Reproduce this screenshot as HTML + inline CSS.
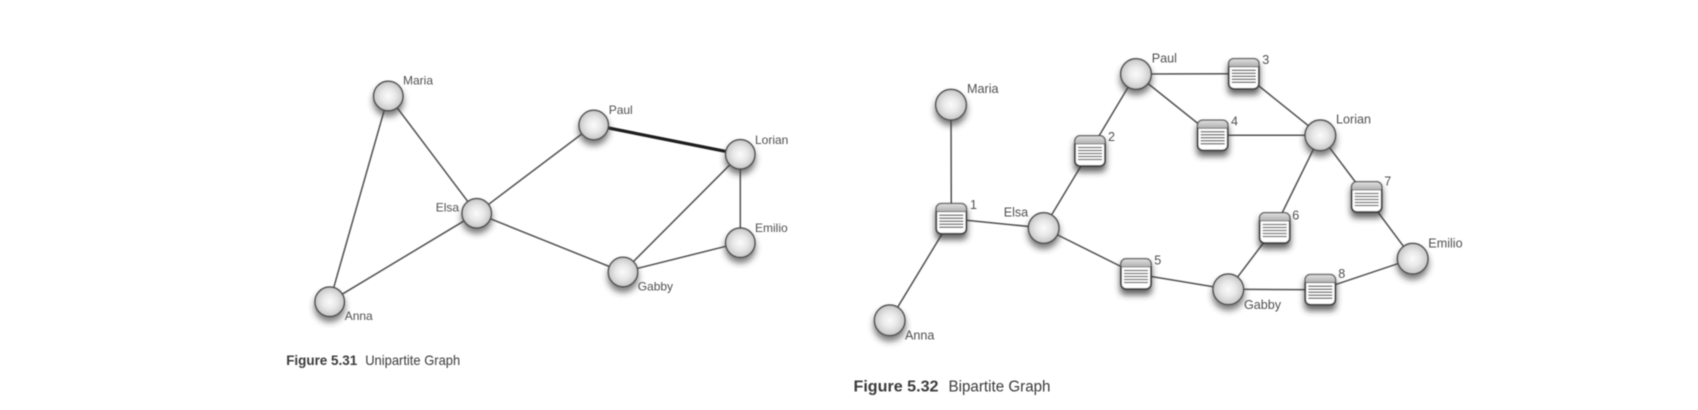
<!DOCTYPE html>
<html>
<head>
<meta charset="utf-8">
<style>
html,body{margin:0;padding:0;background:#fff;width:1698px;height:410px;overflow:hidden}
svg{display:block}
text{font-family:"Liberation Sans",sans-serif;fill:#505050}
.a text{font-size:12px}
.b text{font-size:12.6px}
.cap{fill:#3a3a3a}
line{stroke:#505050;stroke-width:1.5}
</style>
</head>
<body>
<svg width="1698" height="410" viewBox="0 0 1698 410" xmlns="http://www.w3.org/2000/svg">
<defs>
<radialGradient id="g" cx="50%" cy="50%" r="50%">
<stop offset="0" stop-color="#fbfbfb"/><stop offset=".5" stop-color="#e8e8e8"/><stop offset="1" stop-color="#c6c6c6"/>
</radialGradient>
<linearGradient id="h" x1="0" y1="0" x2="0" y2="1">
<stop offset="0" stop-color="#e0e0e0"/><stop offset="1" stop-color="#aeaeae"/>
</linearGradient>
<filter id="s" x="-80%" y="-80%" width="260%" height="260%"><feGaussianBlur stdDeviation="3.200"/></filter>
<filter id="soft" x="0" y="0" width="100%" height="100%"><feGaussianBlur stdDeviation="0.45"/></filter>
<g id="n1">
<circle cx="0" cy="5" r="15.500" fill="#444" opacity=".7" filter="url(#s)"/>
<circle r="14.700" fill="url(#g)" stroke="#505050" stroke-width="1.500"/>
</g>
<g id="n2">
<circle cx="0" cy="5" r="16.200" fill="#444" opacity=".7" filter="url(#s)"/>
<circle r="15.300" fill="url(#g)" stroke="#505050" stroke-width="1.500"/>
</g>
<g id="d">
<rect x="-16" y="-11" width="32" height="32" rx="5" fill="#333" opacity=".75" filter="url(#s)"/>
<rect x="-15" y="-15" width="30" height="30" rx="5" fill="#fff" stroke="#3e3e3e" stroke-width="1.700"/>
<path d="M-15 -8.500V-10a5 5 0 0 1 5-5h20a5 5 0 0 1 5 5V-8.500q0 1.500-1.500 1.500h-27q-1.500 0-1.500-1.500z" fill="url(#h)" stroke="#666" stroke-width=".8"/>
<path d="M-12 -3.500H12M-12 -.5H12M-12 2.500H12M-12 5.500H12M-12 8.500H12" stroke="#6a6a6a" stroke-width="1.300" fill="none"/>
</g>
</defs>
<rect width="1698" height="410" fill="#fff"/>
<g filter="url(#soft)">
<g class="a">
<line x1="388.300" y1="96" x2="329.700" y2="301.700"/>
<line x1="388.300" y1="96" x2="476.700" y2="213.300"/>
<line x1="476.700" y1="213.300" x2="329.700" y2="301.700"/>
<line x1="476.700" y1="213.300" x2="593.700" y2="125"/>
<line x1="476.700" y1="213.300" x2="623" y2="272"/>
<line x1="593.700" y1="125" x2="740.300" y2="154.300" style="stroke:#1c1c1c;stroke-width:3.200"/>
<line x1="740.300" y1="154.300" x2="623" y2="272"/>
<line x1="740.300" y1="154.300" x2="740.300" y2="242.700"/>
<line x1="623" y1="272" x2="740.300" y2="242.700"/>
<use href="#n1" x="388.300" y="96"/>
<use href="#n1" x="476.700" y="213.300"/>
<use href="#n1" x="329.700" y="301.700"/>
<use href="#n1" x="593.700" y="125"/>
<use href="#n1" x="740.300" y="154.300"/>
<use href="#n1" x="740.300" y="242.700"/>
<use href="#n1" x="623" y="272"/>
<text x="403" y="84.700">Maria</text>
<text x="435.700" y="211.700">Elsa</text>
<text x="344.700" y="320">Anna</text>
<text x="608.700" y="114">Paul</text>
<text x="755" y="144">Lorian</text>
<text x="755" y="232">Emilio</text>
<text x="637.700" y="290.700">Gabby</text>
</g>
<text class="cap" x="286.200" y="365" style="font-size:14px;font-weight:bold" textLength="71" lengthAdjust="spacingAndGlyphs">Figure 5.31</text>
<text class="cap" x="365.200" y="365" style="font-size:14px" textLength="95" lengthAdjust="spacingAndGlyphs">Unipartite Graph</text>

<g class="b">
<line x1="951" y1="104.700" x2="951.300" y2="218.700"/>
<line x1="951.300" y1="218.700" x2="889.700" y2="320.300"/>
<line x1="951.300" y1="218.700" x2="1043.700" y2="228"/>
<line x1="1043.700" y1="228" x2="1090" y2="151"/>
<line x1="1090" y1="151" x2="1136" y2="74"/>
<line x1="1136" y1="74" x2="1243.800" y2="73.800"/>
<line x1="1136" y1="74" x2="1212.700" y2="135.300"/>
<line x1="1243.800" y1="73.800" x2="1320.300" y2="135.300"/>
<line x1="1212.700" y1="135.300" x2="1320.300" y2="135.300"/>
<line x1="1043.700" y1="228" x2="1136" y2="274"/>
<line x1="1136" y1="274" x2="1228.300" y2="289.300"/>
<line x1="1228.300" y1="289.300" x2="1274.700" y2="228"/>
<line x1="1274.700" y1="228" x2="1320.300" y2="135.300"/>
<line x1="1320.300" y1="135.300" x2="1366.700" y2="197"/>
<line x1="1366.700" y1="197" x2="1412.700" y2="258.700"/>
<line x1="1228.300" y1="289.300" x2="1320.300" y2="289.700"/>
<line x1="1320.300" y1="289.700" x2="1412.700" y2="258.700"/>
<use href="#n2" x="951" y="104.700"/>
<use href="#n2" x="889.700" y="320.300"/>
<use href="#n2" x="1043.700" y="228"/>
<use href="#n2" x="1136" y="74"/>
<use href="#n2" x="1320.300" y="135.300"/>
<use href="#n2" x="1228.300" y="289.300"/>
<use href="#n2" x="1412.700" y="258.700"/>
<use href="#d" x="951.300" y="218.700"/>
<use href="#d" x="1090" y="151"/>
<use href="#d" x="1243.800" y="73.800"/>
<use href="#d" x="1212.700" y="135.300"/>
<use href="#d" x="1136" y="274"/>
<use href="#d" x="1274.700" y="228"/>
<use href="#d" x="1366.700" y="197"/>
<use href="#d" x="1320.300" y="289.700"/>
<text x="967" y="93">Maria</text>
<text x="1003.700" y="216.700">Elsa</text>
<text x="905" y="339.300">Anna</text>
<text x="1151.700" y="62.300">Paul</text>
<text x="1336" y="123.700">Lorian</text>
<text x="1428.300" y="247.300">Emilio</text>
<text x="1244" y="309">Gabby</text>
<text x="970" y="209">1</text>
<text x="1108" y="141">2</text>
<text x="1262.300" y="64">3</text>
<text x="1231" y="125.700">4</text>
<text x="1154.300" y="264.300">5</text>
<text x="1292.300" y="219.300">6</text>
<text x="1384.300" y="185.700">7</text>
<text x="1338.300" y="278">8</text>
</g>
<text class="cap" x="853.500" y="391.700" style="font-size:15.500px;font-weight:bold" textLength="85" lengthAdjust="spacingAndGlyphs">Figure 5.32</text>
<text class="cap" x="948.500" y="391.700" style="font-size:15.500px" textLength="102" lengthAdjust="spacingAndGlyphs">Bipartite Graph</text>
</g>
</svg>
</body>
</html>
